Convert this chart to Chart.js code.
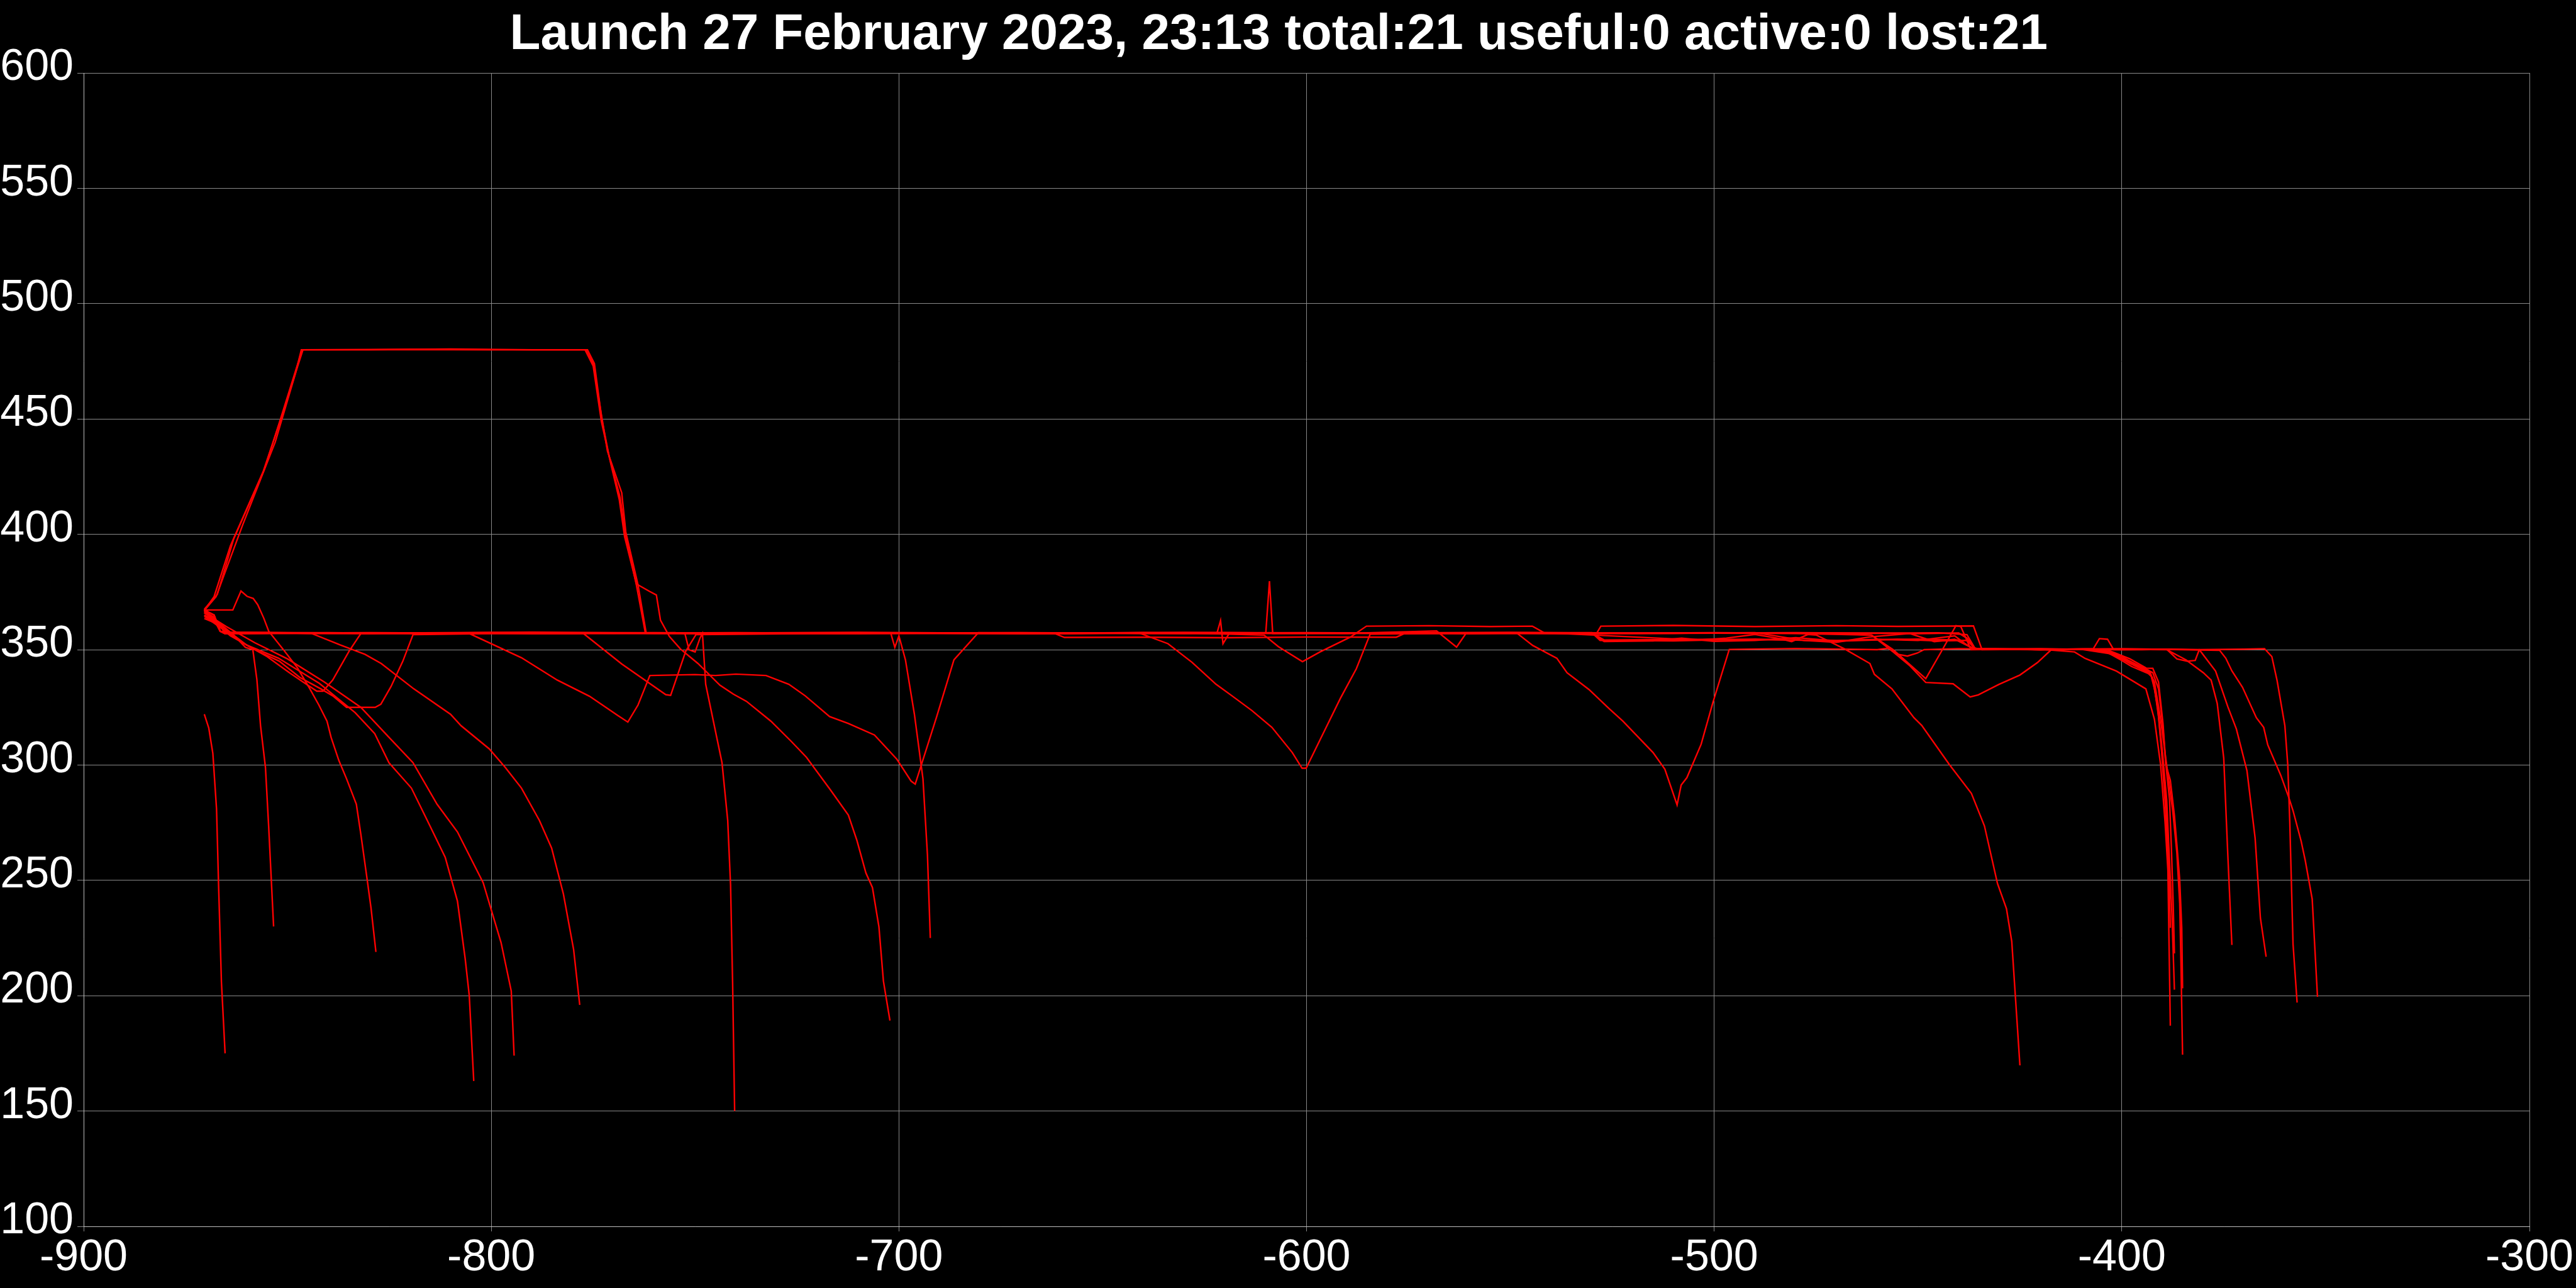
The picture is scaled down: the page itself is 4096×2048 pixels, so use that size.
<!DOCTYPE html>
<html>
<head>
<meta charset="utf-8">
<title>Launch 27 February 2023</title>
<script src="https://cdn.jsdelivr.net/npm/chart.js@4.4.1/dist/chart.umd.min.js"></script>
<style>
  html, body { margin: 0; padding: 0; background: #000; }
  canvas { display: block; }
</style>
</head>
<body>
<canvas id="myChart" width="4096" height="2048"></canvas>
<script>
const titleText = 'Launch 27 February 2023, 23:13 total:21 useful:0 active:0 lost:21';

// Axis ticks
const xTicks = [-900, -800, -700, -600, -500, -400, -300];
const yTicks = [100, 150, 200, 250, 300, 350, 400, 450, 500, 550, 600];

// One track per launched object: [x, y] pairs
const track01 = [[-870.4, 322], [-869.3, 316], [-868.3, 305], [-867.4, 281], [-866.9, 248], [-866.2, 206], [-865.3, 175]];

const track02 = [[-870.4, 367], [-867, 362], [-863, 356], [-860.3, 351], [-858.5, 350], [-857.5, 337], [-856.6, 317],
  [-855.4, 299], [-854.6, 273], [-853.4, 230]];

const track03 = [[-870.4, 367.2], [-863.4, 367.2], [-861.4, 375.4], [-859.9, 373.1], [-858.4, 372.2], [-857.3, 369.5],
  [-855.8, 363.6], [-854.6, 358], [-851, 350], [-847.5, 342], [-844.5, 333], [-842.3, 326], [-840.3, 319],
  [-839.3, 312], [-837.4, 302], [-835.5, 294], [-833.1, 283], [-832, 270], [-830.5, 251], [-829.5, 238], [-828.3, 219]];

const track04 = [[-870.4, 365], [-866, 360], [-860, 352], [-852.2, 346.3], [-842.2, 335.4], [-833.4, 322.7], [-828.6, 313.6],
  [-825.1, 301], [-819.6, 290], [-815.7, 276], [-811.3, 260], [-808.3, 241], [-806.4, 216], [-805.4, 200], [-804.3, 163]];

const track05 = [[-870.4, 366], [-865, 360], [-858, 353], [-850, 346], [-841, 336], [-832, 325], [-825.1, 312], [-819.2, 301],
  [-813.3, 283], [-808.3, 271], [-802, 249], [-797.6, 223], [-795.1, 202], [-794.4, 174]];

const track06 = [[-870.4, 367], [-867, 362], [-865.4, 357.2], [-855, 357.4], [-844, 357], [-837, 352], [-831, 348], [-827, 344],
  [-819, 333], [-810, 322], [-807.4, 317], [-800.5, 307], [-796.6, 299], [-792.6, 290], [-788.2, 276], [-785.2, 264],
  [-782.3, 244], [-779.8, 220], [-778.3, 196]];

const track07 = [[-870.4, 367.5], [-867.2, 374], [-863.2, 398], [-859.7, 412], [-855.7, 428], [-851.7, 450], [-846.4, 480],
  [-820, 480.2], [-800, 480], [-776.4, 480], [-774.7, 474], [-772.9, 450], [-771.1, 434], [-768.4, 416], [-767.1, 400],
  [-764.4, 378], [-762.2, 357.2], [-755, 357.4], [-752.5, 357], [-751.5, 350], [-750, 349], [-748.8, 355], [-748.2, 357],
  [-747.4, 335], [-743.4, 301], [-742, 276], [-741.3, 248], [-740.8, 206], [-740.3, 150]];

const track08 = [[-870.4, 367], [-868, 373], [-864, 395], [-860, 411], [-856, 427], [-852, 448], [-846.2, 480], [-777, 480],
  [-775, 473], [-773, 449], [-771, 433], [-768.6, 415], [-767.3, 399], [-764.4, 378.5], [-761.2, 375.3], [-759.5, 373.7],
  [-758.5, 362.8], [-756.3, 355.7], [-753.6, 350.3], [-749.3, 344], [-743.9, 334.6], [-740.6, 330.7], [-737.4, 327.6],
  [-731.4, 319], [-726.5, 310.4], [-722.7, 303.4], [-716.8, 289.2], [-712.4, 278.3], [-710.3, 267.3], [-708.1, 253.2],
  [-706.5, 246.9], [-704.9, 229.8], [-703.8, 206.3], [-702.2, 189.2]];

const track09 = [[-870.4, 364.5], [-866, 359], [-861, 353], [-855, 347], [-849.5, 340], [-845.7, 335.4], [-842.8, 332],
  [-841.3, 332], [-838.9, 336.8], [-834.9, 349.3], [-832, 357], [-800, 357.4], [-770, 357], [-740, 357.3], [-715, 357],
  [-702, 357.2], [-701, 351], [-700, 356], [-698.4, 345.6], [-696.2, 322], [-694.1, 294], [-693, 261], [-692.3, 225]];

const track10 = [[-870.4, 367.2], [-868, 362], [-864, 356], [-858, 350], [-852, 345], [-847, 338], [-841.8, 333],
  [-838.9, 330], [-835.5, 325], [-828.5, 325], [-827.1, 326.3], [-824.6, 334], [-821.7, 345], [-819.2, 356.5],
  [-790, 357.2], [-760, 357.4], [-730, 357], [-700, 357.3], [-660, 357], [-620, 357.4], [-580, 357], [-540, 357.2],
  [-504, 354.2], [-497, 355], [-490, 356.6], [-484, 354.8], [-481, 353.5], [-477, 356.6], [-474.9, 356.3], [-468, 350.3],
  [-461.8, 344], [-460.7, 339.3], [-456.4, 333], [-451, 320.5], [-449.1, 317.2], [-442.3, 300.2], [-436.9, 287.7],
  [-433.7, 273.6], [-430.5, 248.6], [-428.3, 237.7], [-427, 223.5], [-425, 169.8]];

const track11 = [[-870.4, 367.2], [-868, 365], [-866.5, 358], [-865.4, 357.2], [-840, 357.4], [-820, 357], [-805.4, 357],
  [-792.6, 346.5], [-783.8, 336.8], [-775.9, 329.8], [-769, 321.5], [-766.5, 318.6], [-764, 326], [-761.1, 338.8],
  [-750, 339.2], [-745, 338.8], [-740, 339.4], [-732.6, 338.8], [-727, 335], [-723, 330], [-717, 321], [-712.4, 318],
  [-706, 313], [-700.5, 302.5], [-697, 293], [-696, 291.7], [-690.8, 320.6], [-686.5, 345.6], [-680.5, 357.4],
  [-640, 357.2], [-600, 357.4], [-560, 357], [-530, 357.2], [-527, 354.2], [-500, 354.5], [-470, 354], [-450, 354.6],
  [-440, 354.2], [-437, 351], [-435, 350.3], [-420, 350.2], [-411.6, 349], [-409, 346.2], [-401.3, 340.7], [-394.1, 333],
  [-392, 319.8], [-390.5, 300.3], [-389.4, 275.3], [-388.7, 254.4], [-388.1, 187]];

const track12 = [[-870.4, 367], [-867.5, 373], [-865, 385], [-861, 404], [-857, 422], [-853, 440], [-848, 470],
  [-846.6, 480], [-830, 480], [-810, 480.3], [-790, 480], [-776.8, 480], [-775, 474], [-773, 452], [-771.5, 436],
  [-768, 418], [-767, 401], [-764, 378], [-762, 357.2], [-740, 357], [-700, 357.3], [-660, 357], [-640, 357.4],
  [-622, 357], [-621.1, 362.6], [-620.5, 352.6], [-619, 357], [-590, 357.2], [-560, 357], [-530, 357.4], [-528, 354],
  [-510, 353.8], [-490, 354.6], [-470, 353.7], [-455, 354.5], [-445, 353.8], [-438, 354], [-436, 350.5], [-420, 350],
  [-405, 350.2], [-400.2, 345.5], [-397.6, 342.7], [-394, 340], [-392.9, 339.3], [-391.9, 332.3], [-390.9, 319.8],
  [-389.9, 300.3], [-388.9, 275.3], [-388.4, 251.6], [-388.1, 229.4]];

const track13 = [[-870.4, 366.5], [-868, 364], [-866.5, 358], [-865.4, 357], [-820, 357.3], [-790, 357], [-777.4, 357],
  [-768, 343.8], [-757.2, 330.5], [-756, 330.2], [-752.3, 349.3], [-749.8, 356.5], [-720, 357], [-680, 357.3],
  [-640, 357], [-610, 357.2], [-609.1, 379.7], [-608.3, 357], [-580, 357.4], [-540, 357], [-500, 357.3], [-470, 357],
  [-461.4, 356.3], [-456.1, 349], [-452, 343], [-448.1, 335.8], [-441.4, 335.2], [-437.2, 329.5], [-435.2, 330.4],
  [-430.2, 334.9], [-425, 339], [-420.7, 344.4], [-417.3, 350], [-410, 350.2], [-403, 348.3], [-398, 345], [-394, 341.5],
  [-392.4, 340], [-391, 333], [-390, 318], [-389.2, 300.3], [-388.3, 285], [-387.8, 262], [-387.4, 240], [-387.1, 218.3]];

const track14 = [[-870.4, 366], [-868, 364], [-866.5, 358], [-865.4, 357.4], [-820, 357], [-780, 357.3], [-740, 357],
  [-700, 357.2], [-660, 357], [-641, 357.2], [-634, 352.6], [-628.1, 344.5], [-622.2, 335], [-618.3, 330],
  [-613.4, 323.6], [-608.5, 316.3], [-603.5, 305.4], [-601.1, 298.6], [-600.1, 298.6], [-596.7, 310.9],
  [-591.7, 328.9], [-587.8, 341.7], [-584.4, 356.7], [-560, 357.2], [-520, 357], [-480, 357.3], [-450, 357],
  [-440, 357.2], [-438, 355], [-436, 350.4], [-420, 350], [-404, 350.2], [-398, 346], [-394, 342], [-392.4, 341.9],
  [-391, 336], [-389.9, 318], [-389.2, 300.3], [-388.1, 293.4], [-387.1, 278.1], [-386.3, 261.4], [-385.8, 250.3],
  [-385.3, 229.4], [-385.1, 203.2]];

const track15 = [[-870.4, 363.5], [-867, 361], [-864, 357.5], [-862, 357], [-820, 357.3], [-780, 357], [-740, 357.4],
  [-700, 357], [-662, 357.2], [-659.4, 355.3], [-640, 355.4], [-620, 355.2], [-600, 355.5], [-578, 355.4], [-576, 357],
  [-560, 357.3], [-530, 357], [-527, 353.5], [-515, 353.8], [-508, 355], [-500, 353.6], [-490, 354], [-480, 355.2],
  [-470, 353.8], [-460, 354.5], [-450, 354], [-441, 356], [-438, 352], [-436, 350.2], [-420, 350.4], [-407, 350],
  [-404, 349], [-400, 346], [-396, 342.5], [-393, 340], [-392, 334], [-391, 322], [-390, 305], [-389, 285],
  [-388.4, 262], [-387.7, 235], [-387.1, 202.6]];

const track16 = [[-870.4, 366.8], [-868, 363], [-866.5, 358], [-865.4, 357], [-830, 357.3], [-790, 357], [-750, 357.2],
  [-710, 357], [-670, 357.3], [-630, 357], [-590, 357.3], [-560, 357], [-548.4, 357.2], [-544.5, 351.8],
  [-538.6, 346.3], [-536.1, 340], [-530.7, 332.7], [-525.8, 324.5], [-522.4, 319], [-515, 305.4], [-512.1, 298.2],
  [-509.1, 282.7], [-508.1, 291.3], [-506.7, 294.5], [-503.2, 309], [-500.3, 327.2], [-496.3, 350.1], [-480, 350.5],
  [-460, 350], [-457.3, 350.6], [-454.9, 348], [-452.6, 347.2], [-450.2, 348.5], [-448.5, 350], [-440, 350.4],
  [-420, 350], [-405, 350.2], [-400, 347], [-396, 343], [-393.5, 341], [-392, 336], [-390.5, 320], [-389, 300],
  [-387.5, 280], [-386.5, 262], [-385.8, 240], [-385.5, 215], [-385.1, 174.4]];

const track17 = [[-870.4, 365], [-867, 362], [-864.5, 357.5], [-830, 357], [-790, 357.4], [-750, 357], [-710, 357.3],
  [-670, 357], [-630, 357.2], [-590, 357], [-568.1, 358.1], [-563.2, 351.1], [-560.8, 357.3], [-530, 357],
  [-500, 357.4], [-470, 357], [-445, 357.3], [-438, 356.5], [-436, 350.5], [-420, 350.2], [-406, 350], [-402, 348],
  [-398, 344], [-394, 340.5], [-392.5, 338], [-391.2, 325], [-390.2, 305], [-389.3, 282], [-388.7, 262], [-388.2, 242]];

const track18 = [[-870.4, 367.2], [-868, 365], [-866.5, 358], [-865.4, 357.2], [-830, 357], [-790, 357.3], [-750, 357],
  [-710, 357.2], [-670, 357], [-630, 357.3], [-610.4, 356.3], [-606.9, 351.3], [-601, 344.8], [-596.7, 349],
  [-589.3, 355.4], [-585.3, 360.2], [-570, 360.4], [-555, 360], [-544.6, 360.2], [-541.6, 357.2], [-528.8, 357.2],
  [-527.8, 360.2], [-510, 360.5], [-490, 360], [-470, 360.4], [-455, 360.1], [-436.4, 360.3], [-434.3, 350],
  [-410, 350.3], [-389, 350], [-384.2, 345.5], [-380, 340], [-378.1, 336.8], [-376.6, 326.7], [-375, 303],
  [-374, 261], [-373, 222]];

const track19 = [[-870.4, 366], [-868, 363], [-866.5, 358], [-865.4, 357], [-830, 357.4], [-790, 357], [-750, 357.3],
  [-710, 357], [-670, 357.4], [-630, 357], [-590, 357.3], [-550, 357], [-510, 357.2], [-480, 357], [-461.4, 356.3],
  [-456.1, 350], [-451.4, 342.6], [-448.1, 337.4], [-444.5, 348.5], [-440.7, 360.4], [-439.5, 360], [-437, 350],
  [-420, 350.3], [-400, 350], [-388, 350.2], [-381, 350], [-377, 340.7], [-374, 325.3], [-371.9, 315.6],
  [-369.3, 297.5], [-367.3, 268.3], [-366, 233.6], [-364.6, 216.9]];

const track20 = [[-870.4, 367], [-868, 365], [-866.5, 358], [-865.4, 357.3], [-840, 357], [-800, 357.4], [-760, 357],
  [-720, 357.3], [-680, 357], [-640, 357.4], [-600, 357], [-560, 357.3], [-520, 357], [-480, 357.4], [-450, 357],
  [-440, 357.2], [-438, 355], [-436, 350.2], [-420, 350], [-407, 350.4], [-405.5, 354.8], [-403.5, 354.5],
  [-402, 350], [-395, 350], [-389, 350.2], [-386.5, 346], [-384, 345], [-382, 345.3], [-381, 350], [-370, 350.2],
  [-365, 350.4], [-363.2, 347], [-361.9, 336.5], [-360, 317], [-359.3, 300.4], [-358.8, 275.4], [-358, 222.4],
  [-357, 197]];

const track21 = [[-870.4, 366.2], [-868, 364], [-866.5, 358], [-865.4, 357.6], [-830, 357.2], [-790, 357.6],
  [-750, 357.2], [-710, 357.5], [-670, 357.1], [-630, 357.5], [-590, 357.2], [-550, 357.5], [-510, 357.1],
  [-490, 357.4], [-478, 354], [-470, 353.2], [-462, 355.5], [-452, 357], [-446, 353.5], [-441, 354.5], [-437, 351],
  [-435, 350.3], [-420, 350.1], [-400, 350.4], [-385, 350], [-376, 349.7], [-374.5, 346.3], [-373, 340.8],
  [-370.4, 333.7], [-367, 320.5], [-365.2, 316.3], [-364.2, 308.7], [-361, 295.5], [-359, 285.7], [-358, 280.2],
  [-356, 266.9], [-355, 258.6], [-353.3, 241.9], [-352, 199.5]];

const tracks = [track01, track02, track03, track04, track05, track06, track07, track08, track09, track10, track11,
  track12, track13, track14, track15, track16, track17, track18, track19, track20, track21];

const gridColor = '#8a8a8a';
const labelFont = { family: 'Liberation Sans', size: 70 };

// Build one dataset per track
const datasets = tracks.map((track, i) => ({
    label: 'track ' + (i + 1),
    data: track.map(([x, y]) => ({ x: x, y: y })),
    borderColor: '#ff0000',
    borderWidth: 2.4,
    pointRadius: 0,
    tension: 0,
    fill: false
}));

const ctx = document.getElementById('myChart').getContext('2d');
const myChart = new Chart(ctx, {
    type: 'line',
    data: { datasets: datasets },
    options: {
        responsive: false,
        animation: false,
        devicePixelRatio: 1,
        layout: { padding: { top: 0, right: 74, bottom: 0, left: 0 } },
        plugins: {
            legend: { display: false },
            tooltip: { enabled: false },
            title: {
                display: true,
                // two leading spaces nudge the centred title right, like the original
                text: '  ' + titleText,
                color: '#ffffff',
                font: { family: 'Liberation Sans', size: 80, weight: 'bold', lineHeight: 1.2 },
                padding: { top: 8, bottom: 12 }
            }
        },
        scales: {
            x: {
                type: 'linear',
                min: xTicks[0],
                max: xTicks[xTicks.length - 1],
                afterBuildTicks: axis => { axis.ticks = xTicks.map(v => ({ value: v })); },
                afterFit: axis => { axis.height = 98; },
                grid: { color: gridColor, lineWidth: 1, tickLength: 8 },
                border: { color: '#c0c0c0', width: 1 },
                ticks: { color: '#ffffff', font: labelFont, padding: 1, maxRotation: 0 }
            },
            y: {
                type: 'linear',
                min: yTicks[0],
                max: yTicks[yTicks.length - 1],
                afterBuildTicks: axis => { axis.ticks = yTicks.map(v => ({ value: v })); },
                afterFit: axis => { axis.width = 133; },
                grid: { color: gridColor, lineWidth: 1, tickLength: 10 },
                border: { color: '#c0c0c0', width: 1 },
                ticks: { color: '#ffffff', font: labelFont, padding: 6, labelOffset: -8 }
            }
        }
    }
});
</script>
</body>
</html>
